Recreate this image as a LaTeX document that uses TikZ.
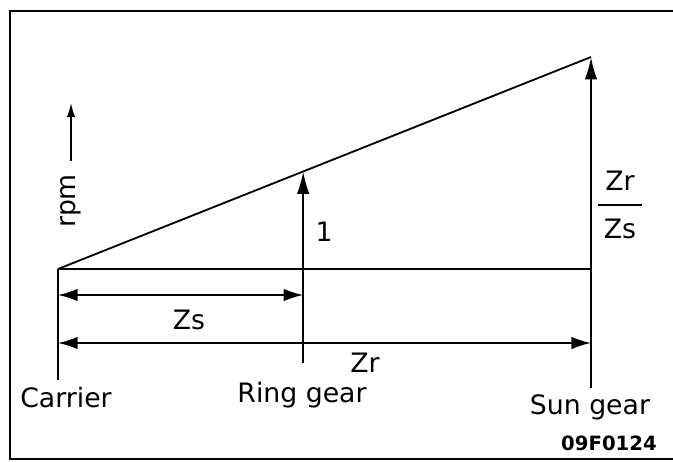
\documentclass[tikz,border=0pt]{standalone}
\usepackage{fontspec}
\setmainfont{DejaVu Sans}
\usetikzlibrary{arrows.meta,positioning,calc}

\begin{document}
\begin{tikzpicture}[
  font=\fontsize{19}{22}\selectfont,
  ln/.style={draw=black,line width=1.3pt},
  tick/.style={draw=black,line width=1pt},
  vec/.style={draw=black,line width=1.6pt,-{Latex[length=16pt,width=9pt]}},
  dim/.style={draw=black,line width=1.3pt,{Latex[length=14pt,width=9pt]}-{Latex[length=14pt,width=9pt]}},
  axis/.style={draw=black,line width=1.1pt,-{Latex[length=10pt,width=6pt]}},
  lbl/.style={inner sep=1pt}
]
\useasboundingbox (0,0) rectangle (16.825,-11.55);
\draw[line width=1.6pt] (16.9,-0.275) -- (0.25,-0.275) -- (0.25,-11.47) -- (16.9,-11.47);

% speed points
\coordinate (c) at (1.45,-6.725);
\coordinate (st) at (14.775,-1.425);
\coordinate (sb) at (st |- c);
\coordinate (rt) at ($(c)!0.46!(st)$);
\coordinate (rb) at (rt |- c);
\coordinate (cf) at (1.45,-9.5);
\coordinate (rf) at (rb |- 0,-9.075);
\coordinate (sf) at (sb |- 0,-9.7);

\draw[ln] (c) -- (st);
\draw[ln] (c) -- (sb);
\draw[vec] (rb) -- (rt);
\draw[vec] (sb) -- (st);
\foreach \a/\b in {c/cf,rb/rf,sb/sf}{\draw[tick] (\a) -- (\b);}

% dimensions
\coordinate (zs0) at (1.45,-7.375);
\coordinate (zs1) at (rb |- zs0);
\coordinate (zr0) at (1.45,-8.575);
\coordinate (zr1) at (sb |- zr0);
\draw[dim] (zs0) -- (zs1);
\draw[dim] (zr0) -- (zr1);
\node[lbl] (zs) at (4.725,-8.0) {Zs};
\node[lbl] (zr) at (9.125,-9.075) {Zr};

% rpm axis
\node[rotate=90,inner ysep=1pt,inner xsep=9pt] (rpm) at (1.775,-5.025) {rpm};
\coordinate (rpmtip) at (1.775,-2.575);
\draw[axis] (rpm.east) -- (rpmtip);

\node[lbl] (one) at (8.1,-5.8) {1};
\node[lbl] (ratio) at (15.5,-5.125) {\renewcommand{\arraystretch}{1.5}\setlength{\tabcolsep}{4.5pt}\setlength{\arrayrulewidth}{1.2pt}\begin{tabular}{c}Zr\\\hline Zs\end{tabular}};

\node[lbl] (carrier) at (1.65,-9.95) {Carrier};
\node[lbl] (ring) at (7.55,-9.875) {Ring gear};
\node[lbl] (sun) at (14.75,-10.175) {Sun gear};
\node[lbl,font=\fontsize{14}{16}\selectfont\bfseries] (code) at (15.225,-11.075) {09F0124};
\end{tikzpicture}
\end{document}
